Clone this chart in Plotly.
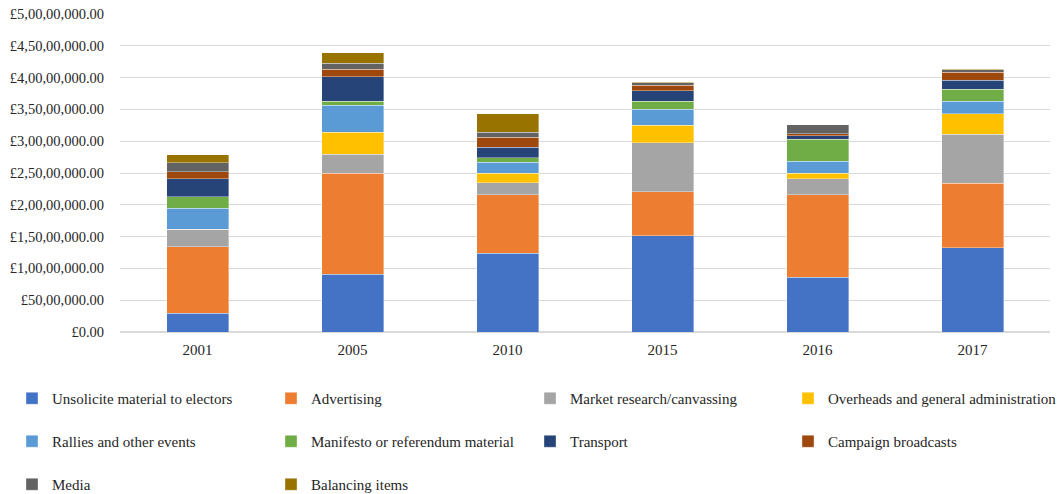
import plotly.graph_objects as go

years = ["2001", "2005", "2010", "2015", "2016", "2017"]

unsolicited = [2.94e6, 9.07e6, 12.37e6, 15.14e6, 8.60e6, 13.25e6]
advertising = [10.47e6, 15.88e6, 9.21e6, 6.92e6, 12.99e6, 10.13e6]
market_research = [2.74e6, 3.03e6, 1.89e6, 7.70e6, 2.47e6, 7.70e6]
overheads = [0.0, 3.46e6, 1.48e6, 2.78e6, 0.94e6, 3.24e6]
rallies = [3.30e6, 4.20e6, 1.73e6, 2.52e6, 1.84e6, 1.95e6]
manifesto = [1.78e6, 0.68e6, 0.72e6, 1.21e6, 3.46e6, 1.93e6]
transport = [2.88e6, 3.82e6, 1.64e6, 1.67e6, 0.57e6, 1.42e6]
campaign_broadcasts = [1.10e6, 1.16e6, 1.57e6, 0.85e6, 0.27e6, 1.21e6]
media = [1.42e6, 0.94e6, 0.79e6, 0.41e6, 1.46e6, 0.41e6]
balancing = [1.21e6, 1.67e6, 2.88e6, 0.05e6, 0.0, 0.05e6]

series_names = [
    "Unsolicite material to electors", "Advertising", "Market research/canvassing",
    "Overheads and general administration", "Rallies and other events",
    "Manifesto or referendum material", "Transport", "Campaign broadcasts",
    "Media", "Balancing items",
]
series_values = [unsolicited, advertising, market_research, overheads, rallies,
                 manifesto, transport, campaign_broadcasts, media, balancing]
colors = ["#4472C4", "#ED7D31", "#A5A5A5", "#FFC000", "#5B9BD5",
          "#70AD47", "#264478", "#9E480E", "#636363", "#997300"]

tick_vals = [i * 5e6 for i in range(11)]
tick_text = ["£0.00", "£50,00,000.00", "£1,00,00,000.00", "£1,50,00,000.00",
             "£2,00,00,000.00", "£2,50,00,000.00", "£3,00,00,000.00",
             "£3,50,00,000.00", "£4,00,00,000.00", "£4,50,00,000.00",
             "£5,00,00,000.00"]

FONT = "Liberation Serif"
FS = 15
TXT = "#262626"
W, H = 1061, 494

# legend grid (figure pixel coords)
col_x = [12, 271, 530, 788]
row_top = [382, 425, 468]

fig = go.Figure()
legends = {}
for i, (name, vals, col) in enumerate(zip(series_names, series_values, colors)):
    lid = "legend" if i == 0 else f"legend{i + 1}"
    fig.add_trace(go.Bar(
        x=years, y=vals, name=name, showlegend=True,
        marker=dict(color=col, line=dict(color="rgba(255,255,255,0.6)", width=0.6)),
        legend=lid,
    ))
    r, c = divmod(i, 4)
    legends[lid] = dict(
        orientation="h", xref="container", yref="container",
        x=col_x[c] / W, y=1 - row_top[r] / H, xanchor="left", yanchor="top",
        font=dict(family=FONT, size=FS, color=TXT),
        bgcolor="rgba(0,0,0,0)", itemclick=False, visible=True,
    )

fig.update_layout(
    width=W, height=H, showlegend=True,
    barmode="stack", bargap=0.6,
    plot_bgcolor="white", paper_bgcolor="white",
    margin=dict(l=120, r=11, t=14, b=162, autoexpand=False),
    font=dict(family=FONT, size=FS, color=TXT),
    xaxis=dict(showgrid=False, showline=True, linecolor="#d9d9d9", ticks="",
               ticklabelstandoff=4,
               tickfont=dict(family=FONT, size=FS, color=TXT)),
    yaxis=dict(range=[0, 5e7], tickvals=tick_vals, ticktext=tick_text,
               showgrid=True, gridcolor="#d9d9d9", gridwidth=1,
               zeroline=True, zerolinecolor="#d9d9d9", ticks="",
               ticklabelstandoff=15,
               tickfont=dict(family=FONT, size=14.5, color=TXT)),
    **legends,
)

fig.write_html("out.html", config={"displayModeBar": False},
               post_script="document.body.style.margin='0px';")
